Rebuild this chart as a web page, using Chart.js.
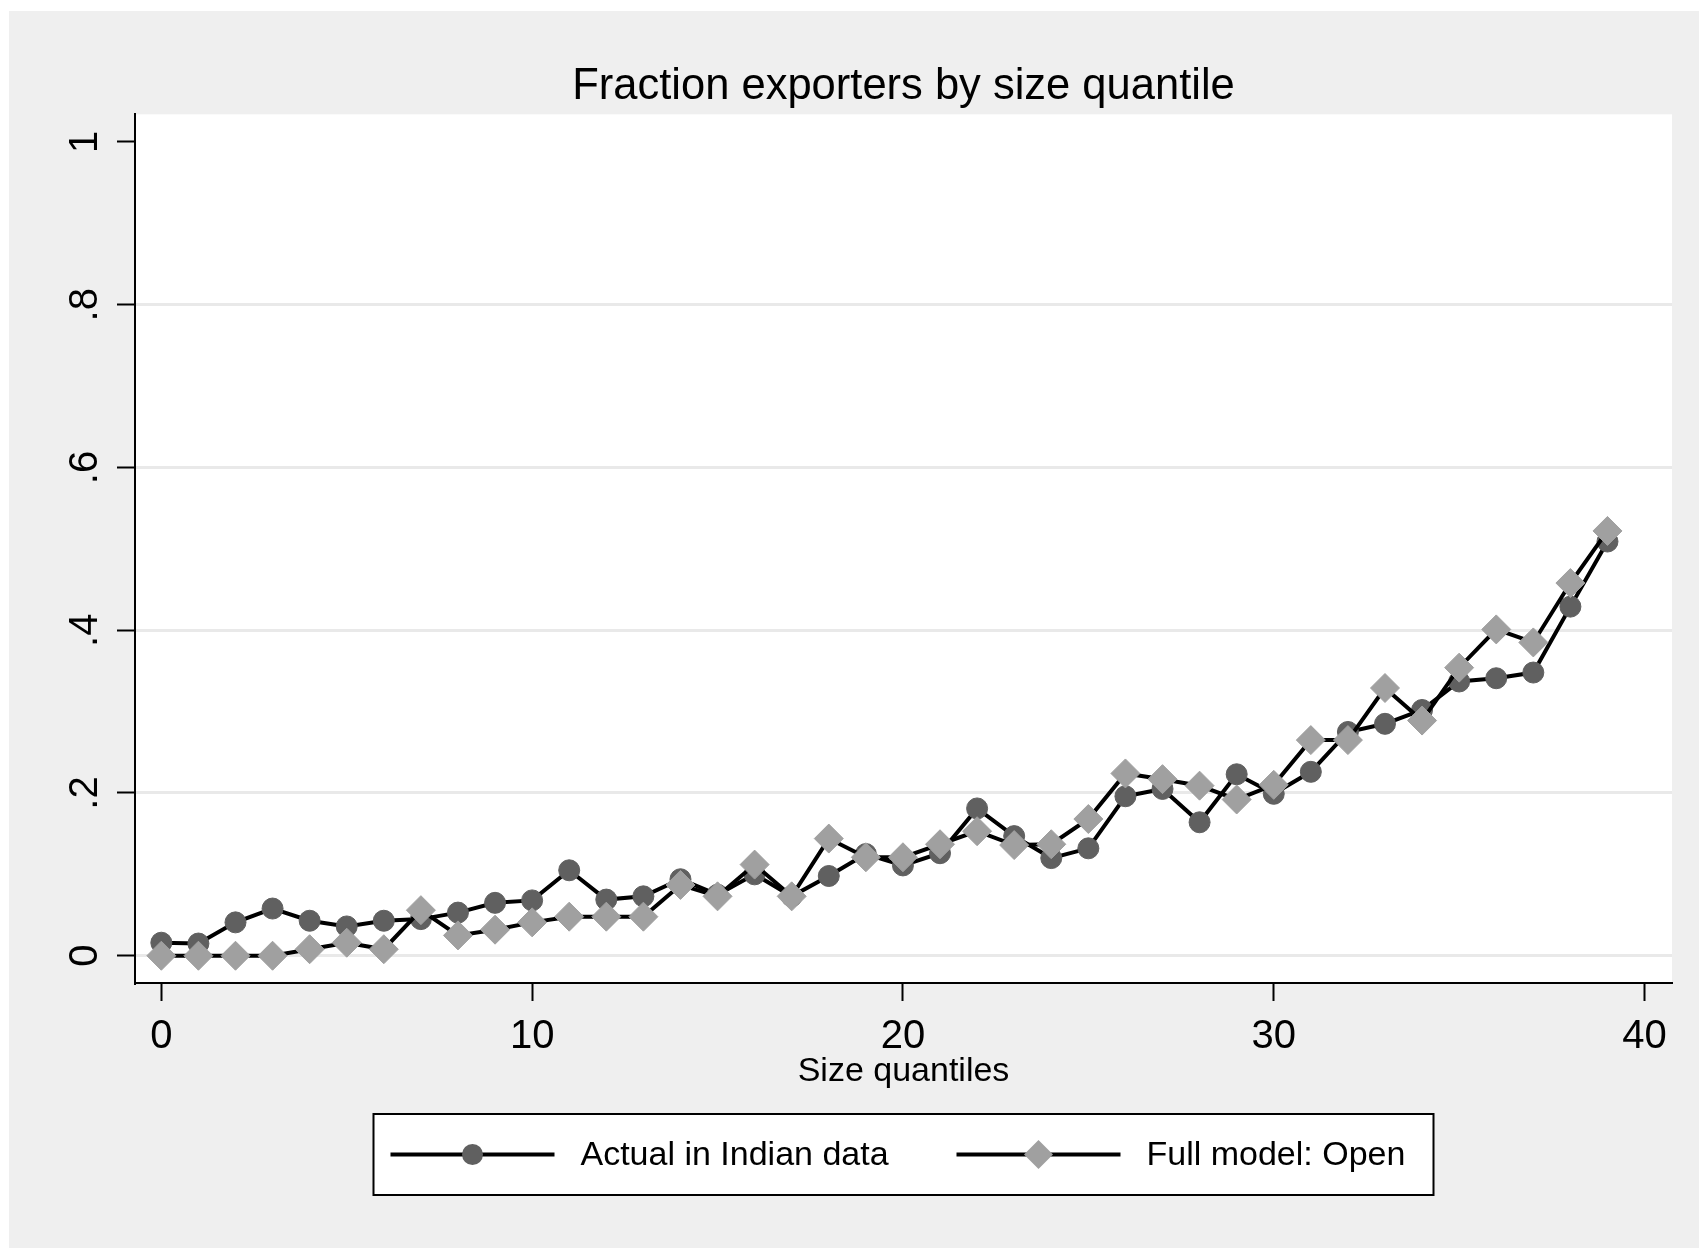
<!DOCTYPE html>
<html>
<head>
<meta charset="utf-8">
<title>Fraction exporters by size quantile</title>
<script src="https://cdn.jsdelivr.net/npm/chart.js@4.4.1/dist/chart.umd.min.js"></script>
<style>
  html, body { margin: 0; padding: 0; background: #fff; }
  canvas { display: block; }
</style>
</head>
<body>
<canvas id="chart" width="1699" height="1248"></canvas>
<script>
/* ===== Data ===== */

const quantiles = [0, 1, 2, 3, 4, 5, 6, 7, 8, 9, 10, 11, 12, 13, 14, 15, 16, 17, 18, 19,
  20, 21, 22, 23, 24, 25, 26, 27, 28, 29, 30, 31, 32, 33, 34, 35, 36, 37, 38, 39];

const actualIndian = [0.016, 0.015, 0.041, 0.058, 0.043, 0.036, 0.043, 0.045, 0.053, 0.065,
  0.068, 0.105, 0.069, 0.073, 0.094, 0.075, 0.100, 0.073, 0.098, 0.125,
  0.111, 0.126, 0.181, 0.147, 0.120, 0.132, 0.196, 0.205, 0.164, 0.223,
  0.199, 0.226, 0.275, 0.285, 0.302, 0.337, 0.341, 0.348, 0.429, 0.509];

const fullModelOpen = [0, 0, 0, 0, 0.008, 0.016, 0.008, 0.056, 0.025, 0.032,
  0.041, 0.048, 0.048, 0.048, 0.087, 0.073, 0.112, 0.073, 0.144, 0.121,
  0.121, 0.137, 0.153, 0.136, 0.137, 0.168, 0.224, 0.217, 0.209, 0.192,
  0.210, 0.265, 0.265, 0.329, 0.289, 0.354, 0.401, 0.385, 0.458, 0.522];

const seriesLabels = ['Actual in Indian data', 'Full model: Open'];

const xTicks = [0, 10, 20, 30, 40];
const yTicks = [0, 0.2, 0.4, 0.6, 0.8, 1];
const yTickLabels = ['0', '.2', '.4', '.6', '.8', '1'];

/* ===== Styling ===== */

const FONT = "'Liberation Sans', Arial, Helvetica, sans-serif";
const BG_OUTER = '#efefef';
const GRID = '#e9e9e9';

Chart.defaults.font.family = FONT;
Chart.defaults.color = '#000';

const toPoints = (vals) => vals.map((v, i) => ({ x: quantiles[i], y: v }));

// Stata-like graph region: grey frame, white plot region
const backgroundPlugin = {
  id: 'stataBackground',
  beforeDraw(chart) {
    const { ctx, chartArea, width, height } = chart;
    ctx.save();
    ctx.fillStyle = '#fff';
    ctx.fillRect(0, 0, width, height);
    ctx.fillStyle = BG_OUTER;
    ctx.fillRect(9, 11, width - 9, height - 11);
    ctx.fillStyle = '#fff';
    ctx.fillRect(chartArea.left, chartArea.top,
      chartArea.right - chartArea.left, chartArea.bottom - chartArea.top);
    ctx.restore();
  }
};

// Boxed legend with line + marker samples, as Stata draws it
const legendPlugin = {
  id: 'stataLegend',
  afterDraw(chart) {
    const { ctx, chartArea } = chart;
    const boxW = 1060, boxTop = 1114, boxH = 81;
    const cx = (chartArea.left + chartArea.right) / 2;
    const left = cx - boxW / 2;
    const midY = boxTop + boxH / 2;

    ctx.save();
    ctx.fillStyle = '#fff';
    ctx.fillRect(left, boxTop, boxW, boxH);
    ctx.strokeStyle = '#000';
    ctx.lineWidth = 2;
    ctx.strokeRect(left, boxTop, boxW, boxH);

    const starts = [left + 17, left + 583];
    chart.data.datasets.forEach((ds, i) => {
      const x0 = starts[i];
      const x1 = x0 + 164;
      ctx.strokeStyle = ds.borderColor;
      ctx.lineWidth = ds.borderWidth;
      ctx.beginPath();
      ctx.moveTo(x0, midY);
      ctx.lineTo(x1, midY);
      ctx.stroke();

      const mx = (x0 + x1) / 2;
      const r = ds.pointRadius;
      ctx.fillStyle = ds.pointBackgroundColor;
      ctx.beginPath();
      if (ds.pointStyle === 'rectRot') {
        ctx.moveTo(mx - r, midY);
        ctx.lineTo(mx, midY - r);
        ctx.lineTo(mx + r, midY);
        ctx.lineTo(mx, midY + r);
        ctx.closePath();
      } else {
        ctx.arc(mx, midY, r, 0, Math.PI * 2);
      }
      ctx.fill();

      ctx.fillStyle = '#000';
      ctx.font = '34px ' + FONT;
      ctx.textAlign = 'left';
      ctx.textBaseline = 'middle';
      ctx.fillText(ds.label, x1 + 26, midY + 1);
    });
    ctx.restore();
  }
};

const ctx = document.getElementById('chart').getContext('2d');

new Chart(ctx, {
  type: 'line',
  data: {
    datasets: [{
      label: seriesLabels[0],
      data: toPoints(actualIndian),
      borderColor: '#000',
      borderWidth: 4,
      tension: 0,
      pointStyle: 'circle',
      pointRadius: 10.5,
      pointBackgroundColor: '#606060',
      pointBorderColor: '#606060',
      pointBorderWidth: 1,
      order: 2
    }, {
      label: seriesLabels[1],
      data: toPoints(fullModelOpen),
      borderColor: '#000',
      borderWidth: 4,
      tension: 0,
      pointStyle: 'rectRot',
      pointRadius: 14.5,
      pointBackgroundColor: '#a0a0a0',
      pointBorderColor: '#a0a0a0',
      pointBorderWidth: 1,
      order: 1
    }]
  },
  options: {
    responsive: false,
    devicePixelRatio: 1,
    animation: false,
    layout: { padding: { top: 0, left: 0, right: 27, bottom: 156 } },
    plugins: {
      legend: { display: false },
      tooltip: { enabled: false },
      title: {
        display: true,
        text: 'Fraction exporters by size quantile',
        fullSize: false,
        color: '#000',
        font: { size: 43.5, weight: 'normal' },
        padding: { top: 60.5, bottom: 1.6 }
      }
    },
    scales: {
      x: {
        type: 'linear',
        min: -0.71,
        max: 40.74,
        afterBuildTicks: (s) => { s.ticks = xTicks.map(v => ({ value: v })); },
        afterFit: (s) => { s.height = 109; },
        grid: {
          drawOnChartArea: false,
          drawTicks: true,
          tickLength: 18,
          tickColor: '#000',
          tickWidth: 2
        },
        border: { display: true, color: '#000', width: 2 },
        ticks: {
          font: { size: 40 },
          color: '#000',
          padding: 12,
          maxRotation: 0,
          callback: (v) => String(v)
        },
        title: {
          display: true,
          text: 'Size quantiles',
          color: '#000',
          font: { size: 34 },
          padding: { top: 0, bottom: 0 }
        }
      },
      y: {
        type: 'linear',
        min: -0.0335,
        max: 1.034,
        afterBuildTicks: (s) => { s.ticks = yTicks.map(v => ({ value: v })); },
        afterFit: (s) => { s.width = 135; },
        grid: {
          color: (c) => (c.tick && c.tick.value === 1 ? 'rgba(0,0,0,0)' : GRID),
          lineWidth: 3,
          drawTicks: true,
          tickLength: 18,
          tickColor: '#000',
          tickWidth: 2
        },
        border: { display: true, color: '#000', width: 2 },
        ticks: {
          font: { size: 40 },
          color: '#000',
          padding: 14,
          minRotation: 90,
          maxRotation: 90,
          crossAlign: 'center',
          callback: (v, i) => yTickLabels[i]
        }
      }
    }
  },
  plugins: [backgroundPlugin, legendPlugin]
});
</script>
</body>
</html>
